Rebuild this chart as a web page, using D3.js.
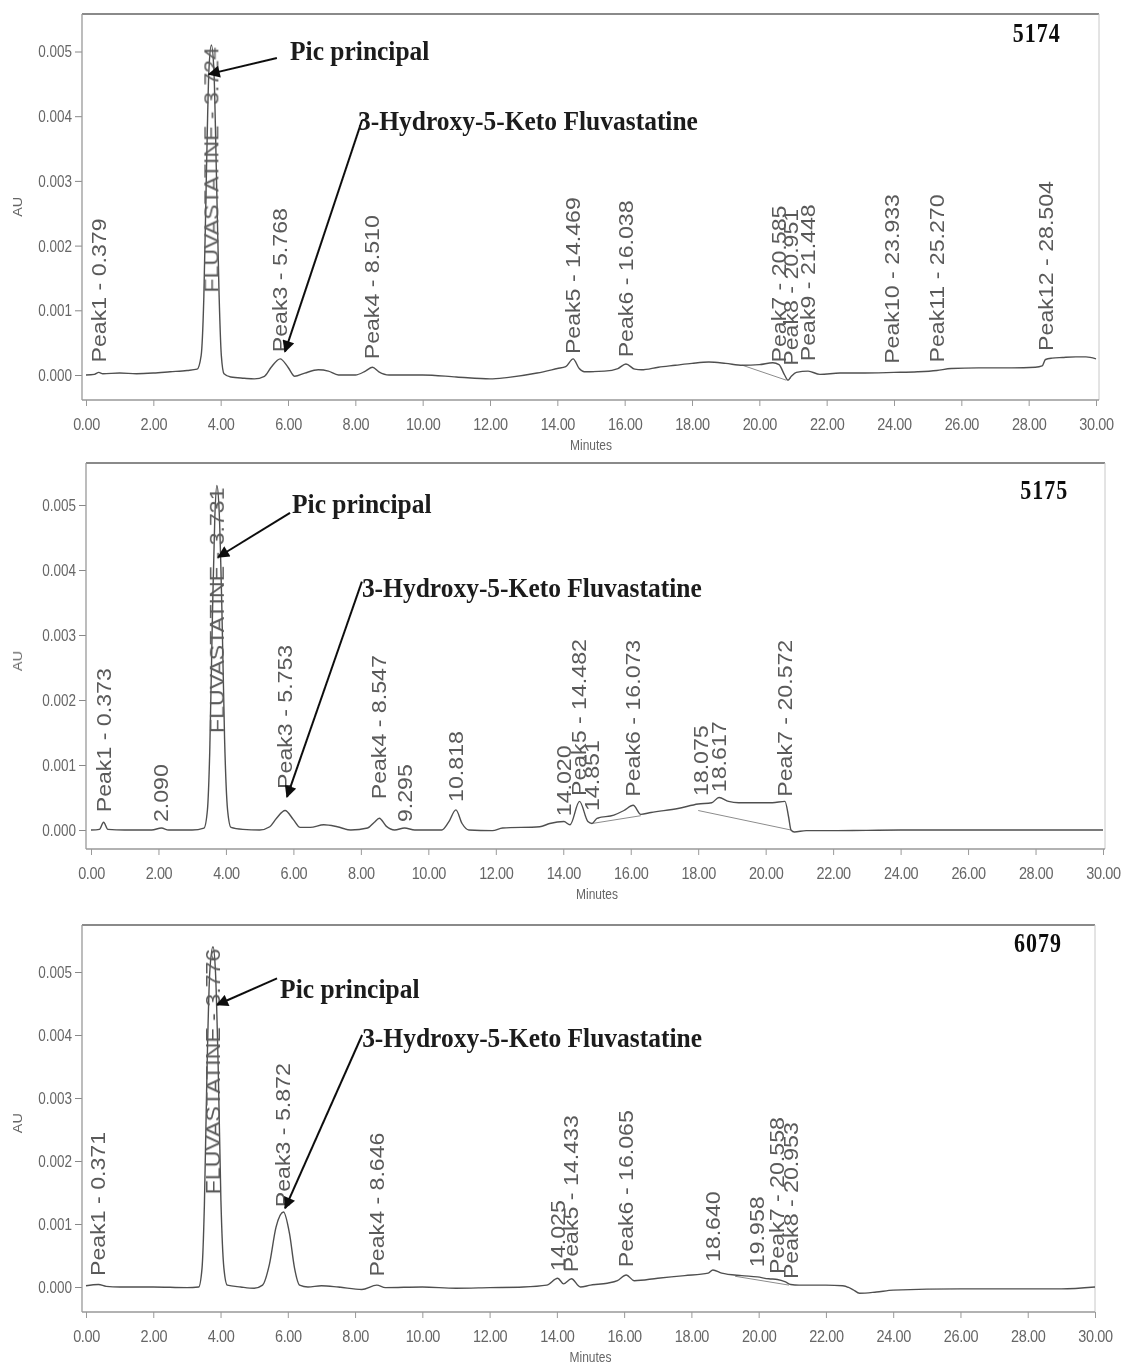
<!DOCTYPE html>
<html>
<head>
<meta charset="utf-8">
<script src="https://cdn.jsdelivr.net/npm/d3@7"></script>
<style>
  html, body { margin: 0; padding: 0; background: #fff; }
  svg { display: block; }
</style>
</head>
<body>
<svg id="chart" width="1127" height="1364"></svg>
<script>
// ---- shared axis values ----
const timeTicks = d3.range(0, 30.01, 2);          // Minutes
const timeMinor = d3.range(0, 30.01, 0.5);
const auTicks = [0, 0.001, 0.002, 0.003, 0.004, 0.005];
const auMinor = d3.range(-0.0004, 0.00561, 0.0002);

// ---- sample 5174 ----
const trace5174 = [
  [0.0, 0.00000], [0.25, 0.00001], [0.379, 0.00004], [0.5, 0.00002], [1.0, 0.00003], [1.5, 0.00002],
  [2.0, 0.00003], [2.5, 0.00005], [3.0, 0.00007], [3.3, 0.00009], [3.42, 0.0003], [3.5, 0.0012],
  [3.58, 0.0032], [3.65, 0.0047], [3.724, 0.0051], [3.8, 0.0047], [3.87, 0.0032], [3.95, 0.0013],
  [4.02, 0.0003], [4.1, 0.00002], [4.3, -0.00003], [4.7, -0.00005], [5.0, -0.00006], [5.3, -0.00002],
  [5.5, 0.00012], [5.768, 0.00025], [6.0, 0.00012], [6.2, -0.00002], [6.5, 0.00003], [6.9, 0.00008],
  [7.2, 0.00006], [7.5, 0.0], [8.0, 0.0], [8.3, 0.00006], [8.51, 0.00012], [8.7, 0.00005], [9.0, 0.0],
  [10.0, 0.0], [11.0, -0.00003], [12.0, -0.00006], [12.5, -0.00004], [13.4, 0.00003], [14.0, 0.0001],
  [14.25, 0.00013], [14.469, 0.00025], [14.65, 0.0001], [14.8, 0.00005], [15.4, 0.00006], [15.8, 0.0001],
  [16.038, 0.00017], [16.3, 0.00009], [16.5, 0.00008], [17.0, 0.00012], [17.5, 0.00015], [18.0, 0.00018],
  [18.5, 0.0002], [19.0, 0.00018], [19.5, 0.00015], [20.0, 0.00016], [20.4, 0.00019], [20.585, 0.00016],
  [20.75, 0.0], [20.85, -0.00008], [20.951, -0.00002], [21.1, 0.00004], [21.448, 0.00006], [21.8, 0.00001],
  [22.4, 0.00003], [23.0, 0.00003], [24.0, 0.00004], [24.7, 0.00005], [25.27, 0.00007], [25.7, 0.0001],
  [26.5, 0.00011], [27.5, 0.00011], [28.2, 0.00012], [28.4, 0.00014], [28.5, 0.00024], [28.7, 0.00026],
  [29.0, 0.00027], [29.4, 0.00028], [29.7, 0.00028], [30.0, 0.00025]
];
// [label, retention time, AU where the label sits]
const peaks5174 = [
  ["Peak1 - 0.379", 0.379, 0.0001],
  ["FLUVASTATINE - 3.724", 3.724, 0.0051],
  ["Peak3 - 5.768", 5.768, 0.00026],
  ["Peak4 - 8.510", 8.510, 0.00015],
  ["Peak5 - 14.469", 14.469, 0.00023],
  ["Peak6 - 16.038", 16.038, 0.00018],
  ["Peak7 - 20.585", 20.585, 0.0001],
  ["Peak8 - 20.951", 20.951, 0.00005],
  ["Peak9 - 21.448", 21.448, 0.00012],
  ["Peak10 - 23.933", 23.933, 0.00008],
  ["Peak11 - 25.270", 25.270, 0.0001],
  ["Peak12 - 28.504", 28.504, 0.00028]
];
const drops5174 = [[[19.5, 0.00015], [20.8, -0.00008]]];

// ---- sample 5175 ----
const trace5175 = [
  [0.0, 0.0], [0.25, 0.00001], [0.373, 0.00012], [0.5, 0.00001], [1.0, 0.0], [1.8, 0.0], [2.09, 0.00003],
  [2.3, 0.0], [3.0, 0.0], [3.35, 0.00003], [3.45, 0.0003], [3.52, 0.0012], [3.6, 0.0033], [3.67, 0.0048],
  [3.731, 0.0053], [3.8, 0.0049], [3.88, 0.0034], [3.96, 0.0014], [4.05, 0.0003], [4.15, 0.00004],
  [4.5, 0.00001], [5.0, 0.0], [5.3, 0.00005], [5.5, 0.00018], [5.753, 0.0003], [6.0, 0.00016], [6.2, 0.00004],
  [6.5, 0.00004], [6.9, 0.00008], [7.3, 0.00005], [7.7, 0.0], [8.2, 0.00003], [8.4, 0.00012], [8.547, 0.00018],
  [8.75, 0.00006], [9.0, 0.0], [9.295, 0.00003], [9.6, 0.0], [10.4, 0.0], [10.6, 0.00012], [10.818, 0.00031],
  [11.0, 0.0001], [11.2, 0.0], [11.9, -0.00001], [12.2, 0.00003], [13.3, 0.00005], [13.6, 0.0001],
  [14.02, 0.00013], [14.2, 0.00008], [14.482, 0.00044], [14.73, 0.00013], [14.851, 0.0001], [15.0, 0.00018],
  [15.5, 0.00023], [15.8, 0.0003], [16.073, 0.00038], [16.3, 0.00024], [16.6, 0.00027], [17.4, 0.00033],
  [18.0, 0.0004], [18.4, 0.00042], [18.617, 0.0005], [18.9, 0.00044], [19.2, 0.00042], [20.2, 0.00042],
  [20.572, 0.00044], [20.68, 0.0002], [20.75, 0.0], [20.85, -0.00003], [21.2, -0.00001], [22.0, -0.00001],
  [24.0, 0.0], [26.0, 0.0], [28.0, 0.0], [30.0, 0.0]
];
const peaks5175 = [
  ["Peak1 - 0.373", 0.373, 0.00018],
  ["2.090", 2.090, 0.00003],
  ["FLUVASTATINE - 3.731", 3.731, 0.0053],
  ["Peak3 - 5.753", 5.753, 0.00054],
  ["Peak4 - 8.547", 8.547, 0.00038],
  ["9.295", 9.295, 0.00003],
  ["10.818", 10.818, 0.00034],
  ["14.020", 14.020, 0.00012],
  ["Peak5 - 14.482", 14.482, 0.00043],
  ["14.851", 14.851, 0.0002],
  ["Peak6 - 16.073", 16.073, 0.00042],
  ["18.075", 18.075, 0.00043],
  ["18.617", 18.617, 0.00049],
  ["Peak7 - 20.572", 20.572, 0.00042]
];
const drops5175 = [[[18.0, 0.0003], [20.75, 0.0]], [[14.85, 0.0001], [16.3, 0.00022]]];

// ---- sample 6079 ----
const trace6079 = [
  [0.0, 0.00002], [0.371, 0.00004], [0.6, 0.00001], [1.0, 0.0], [2.0, 0.0], [3.0, -0.00001], [3.35, 0.0],
  [3.45, 0.0003], [3.52, 0.0013], [3.6, 0.0035], [3.68, 0.005], [3.776, 0.0054], [3.85, 0.005], [3.93, 0.0035],
  [4.01, 0.0014], [4.1, 0.0003], [4.2, 0.00003], [4.6, 0.0], [5.0, -0.00002], [5.25, 0.00003], [5.45, 0.00035],
  [5.65, 0.00095], [5.872, 0.00119], [6.05, 0.00085], [6.2, 0.0003], [6.35, 0.00003], [6.6, 0.0], [7.0, 0.00002],
  [7.5, 0.0], [8.2, -0.00004], [8.646, 0.00003], [8.9, -0.00001], [10.0, 0.0], [11.0, -0.00002], [12.0, -0.00001],
  [13.0, 0.0], [13.7, 0.00003], [14.025, 0.00014], [14.2, 0.00005], [14.433, 0.00013], [14.7, 0.0], [15.0, 0.00003],
  [15.5, 0.00006], [15.8, 0.0001], [16.065, 0.00019], [16.3, 0.0001], [17.0, 0.00014], [17.8, 0.00018],
  [18.5, 0.00022], [18.64, 0.00027], [18.9, 0.00022], [19.5, 0.00018], [19.958, 0.00016], [20.3, 0.00013],
  [20.558, 0.00012], [20.8, 0.00008], [20.953, 0.00004], [21.2, 0.00003], [22.0, 0.00003], [22.5, 0.00002],
  [22.8, -0.00004], [23.0, -0.0001], [23.5, -0.00008], [24.0, -0.00005], [26.0, -0.00003], [28.0, -0.00003],
  [29.0, -0.00003], [30.0, 0.0]
];
const peaks6079 = [
  ["Peak1 - 0.371", 0.371, 0.00008],
  ["FLUVASTATINE - 3.776", 3.776, 0.0054],
  ["Peak3 - 5.872", 5.872, 0.00117],
  ["Peak4 - 8.646", 8.646, 0.00007],
  ["14.025", 14.025, 0.00016],
  ["Peak5 - 14.433", 14.433, 0.00014],
  ["Peak6 - 16.065", 16.065, 0.00022],
  ["18.640", 18.640, 0.0003],
  ["19.958", 19.958, 0.00022],
  ["Peak7 - 20.558", 20.558, 0.00011],
  ["Peak8 - 20.953", 20.953, 0.00003]
];
const drops6079 = [[[19.3, 0.00017], [20.9, 0.00003]]];

// ---- callouts: [text, text anchor (min, AU), arrow start (min, AU), arrow tip (min, AU)] ----
const callouts5174 = [
  ["Pic principal", [6.06, 0.00487], [5.67, 0.0049], [3.65, 0.00465]],
  ["3-Hydroxy-5-Keto Fluvastatine", [8.08, 0.00379], [8.2, 0.00394], [5.91, 0.00036]]
];
const callouts5175 = [
  ["Pic principal", [5.96, 0.00488], [5.9, 0.00488], [3.77, 0.0042]],
  ["3-Hydroxy-5-Keto Fluvastatine", [8.03, 0.00358], [8.03, 0.00382], [5.81, 0.00051]]
];
const callouts6079 = [
  ["Pic principal", [5.77, 0.00459], [5.68, 0.0049], [3.9, 0.00448]],
  ["3-Hydroxy-5-Keto Fluvastatine", [8.21, 0.00381], [8.21, 0.004], [5.92, 0.00125]]
];

const sampleIds = ["5174", "5175", "6079"];

// ---- panel frames (pixel layout) ----
const panels = [
  { id: sampleIds[0], trace: trace5174, peaks: peaks5174, drops: drops5174, callouts: callouts5174,
    left: 82, right: 1099, top: 14, bottom: 400, x0: 86, x30: 1096, yZero: 375, yFive: 51.5, title: [28.95, 0.00514] },
  { id: sampleIds[1], trace: trace5175, peaks: peaks5175, drops: drops5175, callouts: callouts5175,
    left: 86, right: 1105, top: 463, bottom: 849, x0: 91, x30: 1103, yZero: 830, yFive: 505, title: [28.97, 0.0051] },
  { id: sampleIds[2], trace: trace6079, peaks: peaks6079, drops: drops6079, callouts: callouts6079,
    left: 82, right: 1095, top: 925, bottom: 1312, x0: 86, x30: 1095, yZero: 1287, yFive: 972, title: [29.02, 0.00532] }
];

const svg = d3.select("#chart");
svg.append("rect").attr("width", 1127).attr("height", 1364).attr("fill", "#fff");

const defs = svg.append("defs");
defs.append("marker")
  .attr("id", "arrowHead")
  .attr("viewBox", "0 0 10 10")
  .attr("refX", 9).attr("refY", 5)
  .attr("markerWidth", 7).attr("markerHeight", 6)
  .attr("markerUnits", "strokeWidth")
  .attr("orient", "auto")
  .append("path").attr("d", "M0,0 L10,5 L0,10 Z").attr("fill", "#111");
defs.append("filter").attr("id", "soft")
  .append("feGaussianBlur").attr("stdDeviation", 0.35);

const SANS = "'Liberation Sans', Arial, sans-serif";
const SERIF = "'Liberation Serif', 'Times New Roman', serif";
const STRETCH = 1.2;          // glyphs are drawn tall and narrow
const GREY = "#666";

panels.forEach(p => {
  const x = d3.scaleLinear().domain([0, 30]).range([p.x0, p.x30]);
  const y = d3.scaleLinear().domain([0, 0.005]).range([p.yZero, p.yFive]);
  const g = svg.append("g").attr("filter", "url(#soft)");

  // frame: heavy top rule, light right edge
  g.append("line").attr("x1", p.left).attr("x2", p.right).attr("y1", p.top).attr("y2", p.top)
    .attr("stroke", "#8a8a8a").attr("stroke-width", 2.2);
  g.append("line").attr("x1", p.right).attr("x2", p.right).attr("y1", p.top).attr("y2", p.bottom)
    .attr("stroke", "#c8c8c8").attr("stroke-width", 1);

  // y axis (AU)
  const yAxisG = g.append("g").attr("transform", `translate(${p.left},0)`);
  yAxisG.call(d3.axisLeft(y).tickValues(auMinor.filter(v => y(v) > p.top && y(v) < p.bottom))
      .tickSize(3).tickFormat(""));
  yAxisG.call(d3.axisLeft(y).tickValues(auTicks).tickSize(7).tickPadding(3).tickFormat(d3.format(".3f")));
  yAxisG.selectAll(".domain").remove();
  yAxisG.selectAll("line").attr("stroke", "#888");
  yAxisG.selectAll("text")
    .attr("font-family", SANS).attr("font-size", 13.5).attr("fill", GREY)
    .attr("dy", null).attr("dominant-baseline", "central")
    .attr("transform", `scale(1,${STRETCH})`);
  g.append("line").attr("x1", p.left).attr("x2", p.left).attr("y1", p.top).attr("y2", p.bottom)
    .attr("stroke", "#999").attr("stroke-width", 1.3);
  g.append("text")
    .attr("font-family", SANS).attr("font-size", 12).attr("fill", GREY)
    .attr("text-anchor", "middle")
    .attr("transform", `translate(22,${y(0.0026)}) scale(1,${STRETCH}) rotate(-90)`)
    .text("AU");

  // x axis (Minutes)
  const xAxisG = g.append("g").attr("transform", `translate(0,${p.bottom})`);
  xAxisG.call(d3.axisBottom(x).tickValues(timeMinor).tickSize(3).tickFormat(""));
  xAxisG.call(d3.axisBottom(x).tickValues(timeTicks).tickSize(6).tickPadding(9).tickFormat(d3.format(".2f")));
  xAxisG.selectAll(".domain").remove();
  xAxisG.selectAll("line").attr("stroke", "#999");
  xAxisG.selectAll("text")
    .attr("font-family", SANS).attr("font-size", 14.5).attr("fill", GREY)
    .attr("y", 24 / STRETCH).attr("dy", null).attr("dominant-baseline", "central")
    .attr("letter-spacing", -0.4)
    .attr("transform", `scale(1,${STRETCH})`);
  g.append("line").attr("x1", p.left).attr("x2", p.right).attr("y1", p.bottom).attr("y2", p.bottom)
    .attr("stroke", "#999").attr("stroke-width", 1.6);
  g.append("text")
    .attr("font-family", SANS).attr("font-size", 12).attr("fill", GREY)
    .attr("text-anchor", "middle").attr("dominant-baseline", "central")
    .attr("transform", `translate(${x(15)},${p.bottom + 45}) scale(1,${STRETCH})`)
    .text("Minutes");

  // integration baselines
  g.selectAll(null).data(p.drops).join("path")
    .attr("d", d3.line().x(d => x(d[0])).y(d => y(d[1])))
    .attr("fill", "none").attr("stroke", "#8c8c8c").attr("stroke-width", 1);

  // chromatogram trace
  g.append("path").datum(p.trace)
    .attr("d", d3.line().x(d => x(d[0])).y(d => y(d[1])).curve(d3.curveMonotoneX))
    .attr("fill", "none").attr("stroke", "#505050").attr("stroke-width", 1.4)
    .attr("stroke-linejoin", "round");

  // peak labels, rotated, sitting above each peak
  p.peaks.forEach(([label, rt, at]) => {
    const t = g.append("text")
      .attr("font-family", SANS).attr("font-size", 19.3).attr("fill", "#5a5a5a")
      .attr("dy", "0.36em").text(label);
    const len = t.node().getComputedTextLength() * STRETCH;
    let base = y(at) - 6;
    if (base - len < p.top + 20) base = y(at) + len + 2;   // tall peak: label hangs from apex
    t.attr("transform", `translate(${x(rt)},${base}) scale(1,${STRETCH}) rotate(-90)`);
  });

  // callout arrows and captions
  p.callouts.forEach(([text, at, from, tip]) => {
    g.append("line")
      .attr("x1", x(from[0])).attr("y1", y(from[1]))
      .attr("x2", x(tip[0])).attr("y2", y(tip[1]))
      .attr("stroke", "#111").attr("stroke-width", 2)
      .attr("marker-end", "url(#arrowHead)");
    g.append("text")
      .attr("font-family", SERIF).attr("font-weight", "bold").attr("font-size", 25.5)
      .attr("fill", "#1a1a1a")
      .attr("transform", `translate(${x(at[0])},${y(at[1])}) scale(1,1.08)`)
      .text(text);
  });

  // sample number
  g.append("text")
    .attr("font-family", SERIF).attr("font-weight", "bold").attr("font-size", 22)
    .attr("letter-spacing", 1).attr("fill", "#111").attr("text-anchor", "end")
    .attr("transform", `translate(${x(p.title[0])},${y(p.title[1])}) scale(1,1.2)`)
    .text(p.id);
});
</script>
</body>
</html>
